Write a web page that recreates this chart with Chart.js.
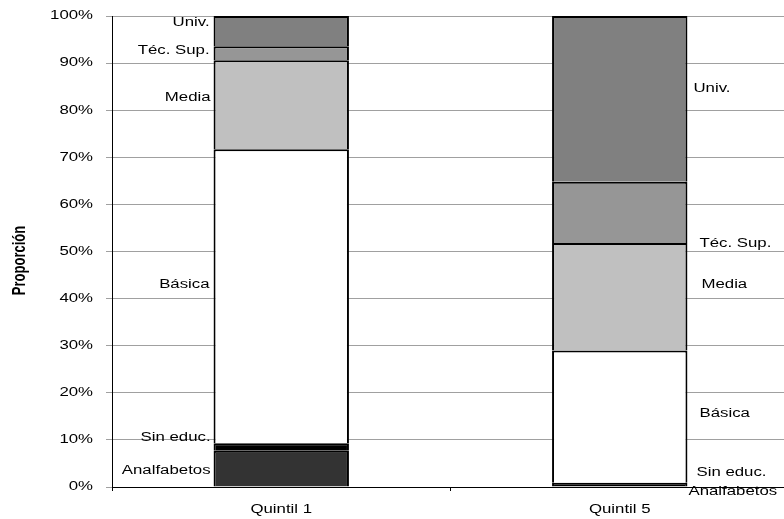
<!DOCTYPE html>
<html>
<head>
<meta charset="utf-8">
<script src="https://cdn.jsdelivr.net/npm/chart.js@4.4.1/dist/chart.umd.min.js"></script>
<style>
  html, body { margin: 0; padding: 0; background: #ffffff; overflow: hidden; }
  canvas { display: block; }
</style>
</head>
<body>
<canvas id="c" width="800" height="519"></canvas>
<script>
// Education level shares (%) by income quintile
const categories = ['Quintil 1', 'Quintil 5'];
const seriesNames = ['Analfabetos', 'Sin educ.', 'Básica', 'Media', 'Téc. Sup.', 'Univ.'];
const analfabetos = [7.7, 0.2];
const sinEduc     = [1.6, 0.7];
const basica      = [62.4, 28.1];
const media       = [18.9, 22.8];
const tecSup      = [3.0, 13.0];
const univ        = [6.4, 35.2];
const yTicks = [0, 10, 20, 30, 40, 50, 60, 70, 80, 90, 100];
const yTitle = 'Proporción';

// Styling
const fills = ['#333333', '#000000', '#ffffff', '#c0c0c0', '#969696', '#808080'];
const FONT = "'Liberation Sans', Arial, sans-serif";
const TEXT_STRETCH = 1.4;
// Series-name label nudges [dx, dy] in px, per category (left side / right side of bar)
const labelSide = ['left', 'right'];
const labelNudge = [
  [[-3, 2], [1, 5]],     // Analfabetos
  [[-3, -9], [9, -12]],  // Sin educ.
  [[-4, -12], [12, -3]], // Básica
  [[-3, -7], [14, -12]], // Media
  [[-4, -3], [12, 31]],  // Téc. Sup.
  [[-4, -8], [6, -10]]   // Univ.
];

const values = [analfabetos, sinEduc, basica, media, tecSup, univ];

const canvas = document.getElementById('c');
const ctx = canvas.getContext('2d');

// Draw all text horizontally widened (in device space), anchored at its drawing point
const protoFill = CanvasRenderingContext2D.prototype.fillText;
ctx.fillText = function (text, x, y, maxWidth) {
  const T = this.getTransform();
  const px = T.a * x + T.c * y + T.e;
  const py = T.b * x + T.d * y + T.f;
  this.save();
  this.setTransform(new DOMMatrix().translate(px, py).scale(TEXT_STRETCH, 1).translate(-px, -py).multiply(T));
  if (maxWidth === undefined) protoFill.call(this, text, x, y);
  else protoFill.call(this, text, x, y, maxWidth);
  this.restore();
};

const seriesLabels = {
  id: 'seriesLabels',
  afterDatasetsDraw(chart) {
    const c = chart.ctx;
    c.save();
    c.font = '12px ' + FONT;
    c.fillStyle = '#000000';
    c.textBaseline = 'middle';
    chart.data.datasets.forEach((ds, i) => {
      const meta = chart.getDatasetMeta(i);
      meta.data.forEach((el, j) => {
        const nudge = labelNudge[i][j];
        const cy = (el.y + el.base) / 2 + nudge[1];
        if (labelSide[j] === 'left') {
          c.textAlign = 'right';
          c.fillText(ds.label, el.x - el.width / 2 + nudge[0], cy);
        } else {
          c.textAlign = 'left';
          c.fillText(ds.label, el.x + el.width / 2 + nudge[0], cy);
        }
      });
    });
    // rotated value-axis title
    const a = chart.chartArea;
    c.font = 'bold 13px ' + FONT;
    c.textAlign = 'center';
    c.translate(20, (a.top + a.bottom) / 2 + 9);
    c.rotate(-Math.PI / 2);
    c.fillText(yTitle, 0, 0);
    c.restore();
  }
};

new Chart(ctx, {
  type: 'bar',
  data: {
    labels: categories,
    datasets: seriesNames.map((name, i) => ({
      label: name,
      data: values[i],
      backgroundColor: fills[i],
      borderColor: '#000000',
      borderWidth: 2,
      borderSkipped: 'start',
      categoryPercentage: 1.0,
      barPercentage: 0.40
    }))
  },
  options: {
    responsive: false,
    animation: false,
    layout: { padding: { top: 16, right: 11, left: 0, bottom: 0 } },
    plugins: { legend: { display: false }, tooltip: { enabled: false } },
    scales: {
      x: {
        stacked: true,
        afterFit(s) { s.height = 32; s.paddingLeft = 0; s.paddingRight = 0; },
        grid: { offset: true, drawOnChartArea: false, drawTicks: true, tickLength: 4, color: '#000000' },
        border: { color: '#000000', width: 1 },
        ticks: { color: '#000000', font: { family: FONT, size: 12 }, padding: 11 }
      },
      y: {
        stacked: true,
        min: 0,
        max: 100,
        afterFit(s) { s.width = 112; s.paddingTop = 0; s.paddingBottom = 0; },
        afterBuildTicks(s) { s.ticks = yTicks.map(v => ({ value: v })); },
        grid: { color: '#a0a0a0', lineWidth: 1, drawTicks: true, tickLength: 6 },
        border: { color: '#000000', width: 1 },
        ticks: { color: '#000000', font: { family: FONT, size: 12 }, padding: 13, callback: v => v + '%' }
      }
    }
  },
  plugins: [seriesLabels]
});
</script>
</body>
</html>
